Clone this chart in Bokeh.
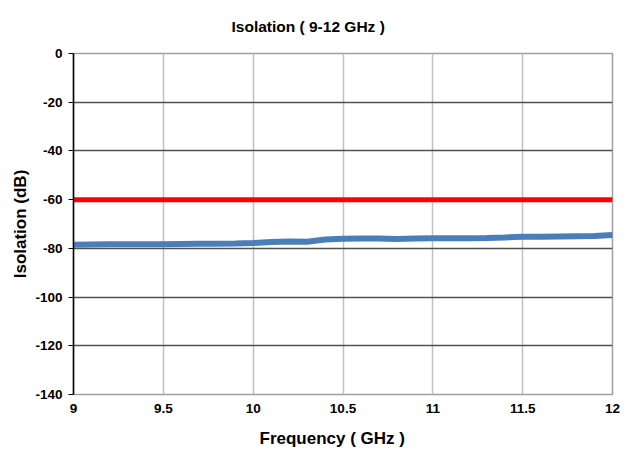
from bokeh.plotting import figure
from bokeh.models import FixedTicker, Range1d, Title
from bokeh.embed import file_html
from bokeh.resources import INLINE

freq = [9.0, 9.1, 9.2, 9.3, 9.4, 9.5, 9.6, 9.7, 9.8, 9.9, 10.0, 10.1, 10.2, 10.3, 10.4, 10.5,
        10.6, 10.7, 10.8, 10.9, 11.0, 11.1, 11.2, 11.3, 11.4, 11.5, 11.6, 11.7, 11.8, 11.9, 12.0]
isolation = [-78.5, -78.4, -78.3, -78.3, -78.3, -78.3, -78.2, -78.1, -78.1, -78.0, -77.8, -77.4,
             -77.2, -77.3, -76.4, -76.1, -76.0, -76.0, -76.2, -76.0, -75.8, -75.8, -75.8, -75.7,
             -75.5, -75.2, -75.2, -75.1, -75.0, -74.9, -74.5]
limit_x = [9.0, 12.0]
limit_y = [-60, -60]
x_ticks = [9, 9.5, 10, 10.5, 11, 11.5, 12]
x_tick_labels = ["9", "9.5", "10", "10.5", "11", "11.5", "12"]
y_ticks = [0, -20, -40, -60, -80, -100, -120, -140]
y_tick_labels = ["0", "-20", "-40", "-60", "-80", "-100", "-120", "-140"]

FONT = "Liberation Sans"

p = figure(width=623, height=458, output_backend="svg", toolbar_location=None,
           x_range=Range1d(9, 12), y_range=Range1d(-140, 0),
           min_border_left=73, min_border_right=11, min_border_top=53, min_border_bottom=50)
p.title = None
t = Title(text="Isolation ( 9-12 GHz )", align="left", offset=158, standoff=34,
          vertical_align="top",
          text_font=FONT, text_font_size="15.5px", text_font_style="bold", text_color="black")
p.add_layout(t, "above")

p.line(freq, isolation, line_color="#4a7ebb", line_width=6)
p.line(limit_x, limit_y, line_color="#ff0000", line_width=5)

p.outline_line_color = "#a0a0a0"
p.outline_line_width = 1.5

p.xaxis.ticker = FixedTicker(ticks=x_ticks)
p.xaxis.major_label_overrides = {tk: lb for tk, lb in zip(x_ticks, x_tick_labels)}
p.yaxis.ticker = FixedTicker(ticks=y_ticks)
p.yaxis.major_label_overrides = {tk: lb for tk, lb in zip(y_ticks, y_tick_labels)}

for ax in (p.xaxis, p.yaxis):
    ax.major_label_text_font = FONT
    ax.major_label_text_font_style = "bold"
    ax.major_label_text_font_size = "13.5px"
    ax.major_label_text_color = "black"
    ax.axis_label_text_font = FONT
    ax.axis_label_text_font_style = "bold"
    ax.axis_label_text_font_size = "17px"
    ax.axis_label_text_color = "black"
    ax.minor_tick_line_color = None
    ax.major_tick_in = 0

xlab = Title(text="Frequency ( GHz )", align="left", offset=186, standoff=22,
             text_font=FONT, text_font_size="17px", text_font_style="bold", text_color="black")
p.add_layout(xlab, "below")
p.xaxis.axis_line_color = "#a0a0a0"
p.xaxis.major_tick_out = 0
p.xaxis.major_label_standoff = 9

p.yaxis.axis_label = "Isolation (dB)"
p.yaxis.axis_line_color = "black"
p.yaxis.axis_line_width = 1.5
p.yaxis.major_tick_out = 5
p.yaxis.major_tick_line_color = "black"
p.yaxis.major_label_standoff = 6
p.yaxis.axis_label_standoff = 2

p.xgrid.ticker = FixedTicker(ticks=x_ticks)
p.xgrid.grid_line_color = "#c0c0c0"
p.xgrid.grid_line_width = 1.5
p.ygrid.ticker = FixedTicker(ticks=y_ticks)
p.ygrid.grid_line_color = "#505050"
p.ygrid.grid_line_width = 1.5

open("out.html", "w").write(file_html(p, INLINE))
